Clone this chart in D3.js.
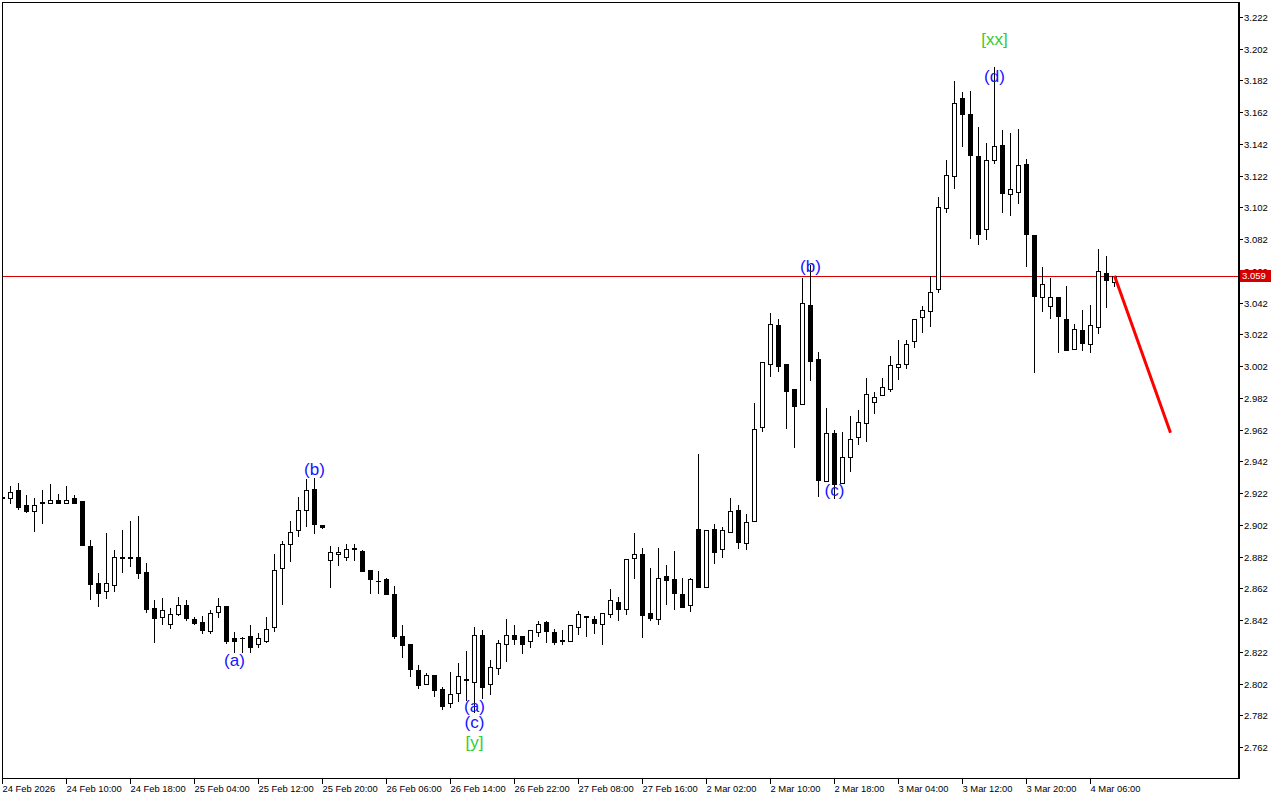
<!DOCTYPE html>
<html><head><meta charset="utf-8">
<script src="https://cdn.jsdelivr.net/npm/d3@7"></script>
<style>html,body{margin:0;padding:0;background:#fff;overflow:hidden}svg{display:block}</style>
</head><body>
<svg id="chart" width="1280" height="800"></svg>
<script>
// ---- data (H1 bars) ----
const opens = [2.9195,2.9187,2.9240,2.9145,2.9109,2.9164,2.9160,2.9177,2.9160,2.9187,
2.9167,2.8887,2.8654,2.8605,2.8643,2.8814,2.8817,2.8817,2.8721,2.8496,
2.8440,2.8393,2.8460,2.8515,2.8424,2.8405,2.8350,2.8473,2.8509,2.8305,
2.8305,2.8320,2.8268,2.8290,2.8374,2.8746,2.8897,2.8986,2.9112,2.9244,
2.9017,2.8797,2.8835,2.8816,2.8874,2.8857,2.8735,2.8666,2.8679,2.8584,
2.8320,2.8269,2.8105,2.8015,2.8074,2.7984,2.7898,2.7961,2.8049,2.8032,
2.8326,2.8015,2.8116,2.8268,2.8324,2.8318,2.8286,2.8343,2.8405,2.8343,
2.8294,2.8290,2.8374,2.8446,2.8427,2.8393,2.8456,2.8532,2.8491,2.8813,
2.8834,2.8462,2.8425,2.8698,2.8677,2.8582,2.8513,2.8992,2.8630,2.8992,
2.8866,2.8973,2.9112,2.8904,2.9042,2.9635,3.0032,3.0277,3.0032,2.9874,
2.9783,3.0405,3.0065,2.9294,2.9597,2.9281,2.9445,2.9571,2.9663,2.9792,
2.9836,2.9874,3.0013,3.0032,3.0177,3.0328,3.0365,3.0504,3.1015,3.1216,
3.1708,3.1607,3.1344,3.0882,3.1317,3.1412,3.1103,3.1119,3.1294,3.0844,
3.0454,3.0397,3.0454,3.0315,3.0126,3.0246,3.0158,3.0265,3.0605,3.0552];
const highs = [2.9208,2.9265,2.9284,2.9208,2.9191,2.9240,2.9279,2.9214,2.9265,2.9208,
2.9167,2.8925,2.8714,2.8970,2.8861,2.8987,2.9044,2.9076,2.8778,2.8546,
2.8559,2.8496,2.8567,2.8546,2.8439,2.8447,2.8483,2.8559,2.8509,2.8343,
2.8315,2.8389,2.8340,2.8440,2.8836,2.8920,2.9044,2.9195,2.9309,2.9313,
2.9019,2.8887,2.8882,2.8897,2.8897,2.8861,2.8735,2.8729,2.8687,2.8634,
2.8389,2.8269,2.8136,2.8084,2.8074,2.7996,2.8095,2.8147,2.8225,2.8376,
2.8357,2.8168,2.8294,2.8427,2.8389,2.8318,2.8355,2.8414,2.8414,2.8364,
2.8357,2.8387,2.8477,2.8446,2.8446,2.8462,2.8616,2.8565,2.8803,2.8969,
2.8874,2.8748,2.8874,2.8767,2.8855,2.8683,2.8683,2.9466,2.8986,2.9025,
2.9005,2.9187,2.9143,2.9086,2.9786,3.0044,3.0355,3.0317,3.0032,2.9874,
3.0573,3.0657,3.0107,2.9754,2.9618,2.9605,2.9706,2.9744,2.9945,2.9859,
2.9945,3.0084,3.0185,3.0185,3.0315,3.0399,3.0588,3.1084,3.1319,3.1817,
3.1749,3.1754,3.1529,3.1426,3.1907,3.1508,3.1487,3.1514,3.1323,3.0844,
3.0645,3.0575,3.0454,3.0525,3.0285,3.0374,3.0405,3.0758,3.0712,3.0590];
const lows = [2.9183,2.9160,2.9122,2.9103,2.8983,2.9033,2.9160,2.9160,2.9160,2.9160,
2.8893,2.8553,2.8509,2.8561,2.8605,2.8723,2.8760,2.8686,2.8471,2.8281,
2.8397,2.8371,2.8452,2.8421,2.8393,2.8340,2.8340,2.8440,2.8274,2.8221,
2.8219,2.8221,2.8252,2.8282,2.8353,2.8521,2.8794,2.8952,2.9014,2.8967,
2.9002,2.8626,2.8767,2.8798,2.8798,2.8731,2.8592,2.8588,2.8582,2.8305,
2.8189,2.8069,2.7994,2.8015,2.7943,2.7862,2.7874,2.7912,2.7916,2.7841,
2.7931,2.7952,2.8080,2.8164,2.8269,2.8214,2.8252,2.8321,2.8283,2.8271,
2.8267,2.8290,2.8334,2.8321,2.8340,2.8271,2.8440,2.8421,2.8460,2.8686,
2.8315,2.8421,2.8393,2.8523,2.8491,2.8504,2.8479,2.8630,2.8630,2.8781,
2.8819,2.8973,2.8874,2.8866,2.9042,2.9614,2.9960,2.9991,2.9632,2.9512,
2.9783,2.9933,2.9202,2.9294,2.9187,2.9281,2.9361,2.9528,2.9550,2.9723,
2.9836,2.9865,2.9941,3.0006,3.0142,3.0233,3.0275,3.0489,3.0993,3.1144,
3.1409,3.0829,3.0788,3.0823,3.1302,3.0993,3.0972,3.1050,3.0653,2.9985,
3.0369,3.0325,3.0111,3.0123,3.0126,3.0123,3.0111,3.0231,3.0395,3.0523];
const closes = [2.9189,2.9225,2.9134,2.9109,2.9145,2.9156,2.9177,2.9160,2.9177,2.9160,
2.8893,2.8647,2.8592,2.8654,2.8817,2.8817,2.8809,2.8717,2.8490,2.8434,
2.8481,2.8458,2.8515,2.8434,2.8403,2.8357,2.8462,2.8509,2.8289,2.8290,
2.8307,2.8252,2.8305,2.8362,2.8735,2.8897,2.8973,2.9112,2.9238,2.9023,
2.9004,2.8847,2.8847,2.8868,2.8866,2.8731,2.8677,2.8663,2.8582,2.8321,
2.8265,2.8113,2.8013,2.8072,2.7981,2.7881,2.7954,2.8066,2.8045,2.8324,
2.8000,2.8124,2.8274,2.8324,2.8302,2.8271,2.8355,2.8393,2.8353,2.8283,
2.8288,2.8387,2.8458,2.8438,2.8403,2.8462,2.8545,2.8491,2.8803,2.8834,
2.8454,2.8434,2.8683,2.8674,2.8592,2.8504,2.8677,2.8630,2.8986,2.8851,
2.8986,2.9105,2.8914,2.9036,2.9622,3.0044,3.0284,3.0023,2.9865,2.9771,
3.0416,3.0054,2.9302,2.9597,2.9275,2.9449,2.9563,2.9666,2.9842,2.9826,
2.9887,3.0025,3.0032,3.0158,3.0315,3.0372,3.0485,3.1025,3.1223,3.1676,
3.1611,3.1352,3.0854,3.1317,3.1405,3.1113,3.1134,3.1286,3.0854,3.0464,
3.0536,3.0454,3.0334,3.0123,3.0252,3.0164,3.0277,3.0617,3.0564,3.0590];

const xTickLabels = ["24 Feb 2026","24 Feb 10:00","24 Feb 18:00","25 Feb 04:00","25 Feb 12:00",
"25 Feb 20:00","26 Feb 06:00","26 Feb 14:00","26 Feb 22:00","27 Feb 08:00","27 Feb 16:00",
"2 Mar 02:00","2 Mar 10:00","2 Mar 18:00","3 Mar 04:00","3 Mar 12:00","3 Mar 20:00","4 Mar 06:00"];
const xTickEvery = 8;
const yTickValues = [2.762,2.782,2.802,2.822,2.842,2.862,2.882,2.902,2.922,2.942,2.962,2.982,
3.002,3.022,3.042,3.062,3.082,3.102,3.122,3.142,3.162,3.182,3.202,3.222];
const currentPrice = 3.059;
const forecastBars = [139, 146];
const forecastPrices = [3.059, 2.960];

const waveText   = ["(a)","(b)","(a)","(c)","[y]","(b)","(c)","(d)","[xx]"];
const waveBar    = [29, 39, 59, 59, 59, 101, 104, 124, 124];
const wavePrice  = [2.8168, 2.9372, 2.7879, 2.7772, 2.7652, 3.0651, 2.9239, 3.1848, 3.2081];
const waveDegree = ["minor","minor","minor","minor","major","minor","minor","minor","major"];

// ---- drawing ----
const svg = d3.select("#chart");
const L = 2, R = 1238, T = 2, B = 778;
const x = d3.scaleLinear().domain([0, 139]).range([2.5, 1114.5]);
const y = d3.scaleLinear().domain([2.762, 3.222]).range([747, 17]);
const font = "'Liberation Sans', Arial, sans-serif";

svg.append("rect").attr("width",1280).attr("height",800).attr("fill","#fff");

const defs = svg.append("defs");
defs.append("clipPath").attr("id","plot").append("rect")
  .attr("x",L+1).attr("y",T+1).attr("width",R-L-1).attr("height",B-T-1);

const g = svg.append("g").attr("clip-path","url(#plot)");

// current price line
g.append("line").attr("x1",L).attr("x2",R)
  .attr("y1",Math.round(y(currentPrice))+0.5).attr("y2",Math.round(y(currentPrice))+0.5)
  .attr("stroke","#d80000").attr("stroke-width",1);

const bars = d3.range(opens.length).map(i => ({i,o:opens[i],h:highs[i],l:lows[i],c:closes[i]}));
const cg = g.append("g").attr("shape-rendering","crispEdges");
bars.forEach(d => {
  const cx = x(d.i);
  const yh = Math.round(y(d.h)), yl = Math.round(y(d.l));
  cg.append("line").attr("x1",cx).attr("x2",cx).attr("y1",yh).attr("y2",yl+1)
    .attr("stroke","#000").attr("stroke-width",1);
  const top = Math.round(y(Math.max(d.o,d.c))), bot = Math.round(y(Math.min(d.o,d.c)));
  if (bot - top < 1) {
    cg.append("line").attr("x1",cx-2.5).attr("x2",cx+2.5).attr("y1",top+0.5).attr("y2",top+0.5)
      .attr("stroke","#000").attr("stroke-width",1);
  } else {
    cg.append("rect").attr("x",cx-2).attr("y",top+0.5).attr("width",4).attr("height",bot-top)
      .attr("fill", d.c >= d.o ? "#fff" : "#000").attr("stroke","#000").attr("stroke-width",1);
  }
});

// forecast line
g.append("line")
  .attr("x1",x(forecastBars[0])).attr("y1",y(forecastPrices[0]))
  .attr("x2",x(forecastBars[1])).attr("y2",y(forecastPrices[1]))
  .attr("stroke","#ff0000").attr("stroke-width",3);

// wave labels
g.selectAll("text.wave").data(waveText).enter().append("text")
  .attr("class","wave")
  .attr("x",(d,i)=>x(waveBar[i])).attr("y",(d,i)=>y(wavePrice[i]))
  .attr("dy","0.33em").attr("text-anchor","middle")
  .attr("font-family",font).attr("font-size",17)
  .attr("fill",(d,i)=>waveDegree[i]==="major" ? "#33cc33" : "#1414ff")
  .text(d=>d);

// frame
const fr = svg.append("g").attr("shape-rendering","crispEdges");
fr.append("line").attr("x1",L+0.5).attr("x2",L+0.5).attr("y1",T).attr("y2",B+1).attr("stroke","#000");
fr.append("line").attr("x1",L).attr("x2",R).attr("y1",T+0.5).attr("y2",T+0.5).attr("stroke","#000");
fr.append("line").attr("x1",L).attr("x2",R).attr("y1",B+0.5).attr("y2",B+0.5).attr("stroke","#000");
fr.append("line").attr("x1",R+0.5).attr("x2",R+0.5).attr("y1",T).attr("y2",B+1).attr("stroke","#000").attr("stroke-width",2);

// y axis
const ya = svg.append("g");
yTickValues.forEach(v => {
  const yy = Math.round(y(v)) + 0.5;
  ya.append("line").attr("x1",R+1).attr("x2",R+5).attr("y1",yy).attr("y2",yy)
    .attr("stroke","#000").attr("shape-rendering","crispEdges");
  ya.append("text").attr("x",R+6).attr("y",yy).attr("dy","0.35em")
    .attr("font-family",font).attr("font-size",9.5).attr("fill","#000")
    .text(d3.format(".3f")(v));
});
// current price tag
const py = Math.round(y(currentPrice));
ya.append("rect").attr("x",R+2).attr("y",py-6).attr("width",31).attr("height",12).attr("fill","#d40000");
ya.append("text").attr("x",R+4).attr("y",py).attr("dy","0.35em")
  .attr("font-family",font).attr("font-size",9.5).attr("fill","#fff").text(d3.format(".3f")(currentPrice));

// x axis
const xa = svg.append("g");
xTickLabels.forEach((lab,k) => {
  const xx = x(k*xTickEvery);
  xa.append("line").attr("x1",xx).attr("x2",xx).attr("y1",B+1).attr("y2",B+6)
    .attr("stroke","#000").attr("shape-rendering","crispEdges");
  xa.append("text").attr("x",Math.max(xx,2.5)).attr("y",792)
    .attr("font-family",font).attr("font-size",9.4).attr("fill","#000").text(lab);
});
</script>
</body></html>
